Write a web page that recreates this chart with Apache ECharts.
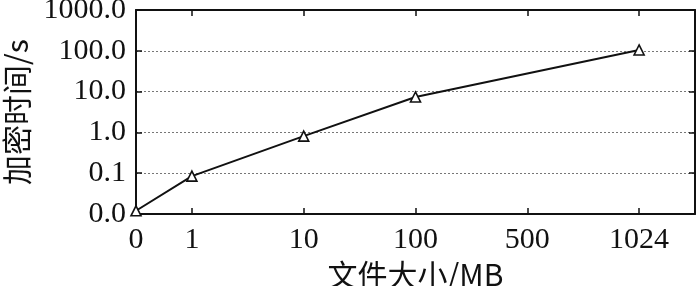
<!DOCTYPE html>
<html>
<head>
<meta charset="utf-8">
<script src="https://cdn.jsdelivr.net/npm/echarts@6/dist/echarts.min.js"></script>
<style>html,body{margin:0;padding:0;background:#fff}#c{width:700px;height:286px}</style>
</head>
<body>
<div id="c"></div>
<script>
// File sizes (MB) shown on the x axis
var sizeLabels = ['0', '1', '10', '100', '500', '1024'];
// Encryption time (s); no measurement at 500 MB
var encryptTimes = [0.012, 0.085, 0.81, 7.4, null, 105];
// Y tick values (log axis)
var yTicks = [0.01, 0.1, 1, 10, 100, 1000];

// Layout: "0" sits on the left edge, the others are spaced one slot apart after a half slot.
var cats = [], vals = [];
for (var i = 0; i < sizeLabels.length; i++) {
  cats.push(sizeLabels[i]); vals.push(encryptTimes[i]);
  if (i > 0) { cats.push(''); vals.push(null); }
}

var serif = '"Liberation Serif","Times New Roman",serif';
var cjk = '"Noto Sans CJK SC","Liberation Serif",serif';
var black = '#111';

var chart = echarts.init(document.getElementById('c'), null, {renderer: 'canvas'});
var tickFn = function (idx, v) { return idx > 0 && v !== ''; };
chart.setOption({
  animation: false,
  backgroundColor: '#fff',
  grid: {left: 136, right: 5, top: 10, bottom: 72, containLabel: false, outerBoundsMode: 'none'},
  xAxis: [{
    type: 'category', data: cats, boundaryGap: false, position: 'bottom',
    name: '文件大小/MB', nameLocation: 'middle', nameGap: 44,
    nameTextStyle: {fontFamily: cjk, fontSize: 30, color: black},
    axisLine: {lineStyle: {color: black, width: 2}},
    axisTick: {inside: true, length: 6, interval: tickFn, lineStyle: {color: black, width: 1.5}},
    axisLabel: {interval: 0, margin: 11, fontFamily: serif, fontSize: 30, color: black},
    splitLine: {show: false}
  }, {
    type: 'category', data: cats, boundaryGap: false, position: 'top',
    axisLine: {lineStyle: {color: black, width: 2}},
    axisTick: {inside: true, length: 6, interval: tickFn, lineStyle: {color: black, width: 1.5}},
    axisLabel: {show: false}, splitLine: {show: false}
  }],
  yAxis: [{
    type: 'log', logBase: 10, min: yTicks[0], max: yTicks[yTicks.length - 1],
    name: '加密时间/s', nameLocation: 'middle', nameGap: 104, nameRotate: 90,
    nameTextStyle: {fontFamily: cjk, fontSize: 30, color: black},
    axisLine: {show: true, lineStyle: {color: black, width: 2}},
    axisTick: {show: true, inside: true, length: 6, lineStyle: {color: black, width: 1.5}},
    axisLabel: {margin: 10, fontFamily: serif, fontSize: 30, color: black,
      formatter: function (v) { return Number(v).toFixed(1); }},
    splitLine: {show: true, lineStyle: {color: '#777', type: [2, 2], width: 1}}
  }, {
    type: 'log', logBase: 10, min: yTicks[0], max: yTicks[yTicks.length - 1], position: 'right',
    axisLine: {show: true, lineStyle: {color: black, width: 2}},
    axisTick: {show: true, inside: true, length: 6, lineStyle: {color: black, width: 1.5}},
    axisLabel: {show: false}, splitLine: {show: false}
  }],
  series: [{
    type: 'line', data: vals, connectNulls: true,
    symbol: 'triangle', symbolSize: 10, showAllSymbol: true,
    lineStyle: {color: black, width: 2},
    itemStyle: {color: '#fff', borderColor: black, borderWidth: 1.6}
  }]
});
</script>
</body>
</html>
